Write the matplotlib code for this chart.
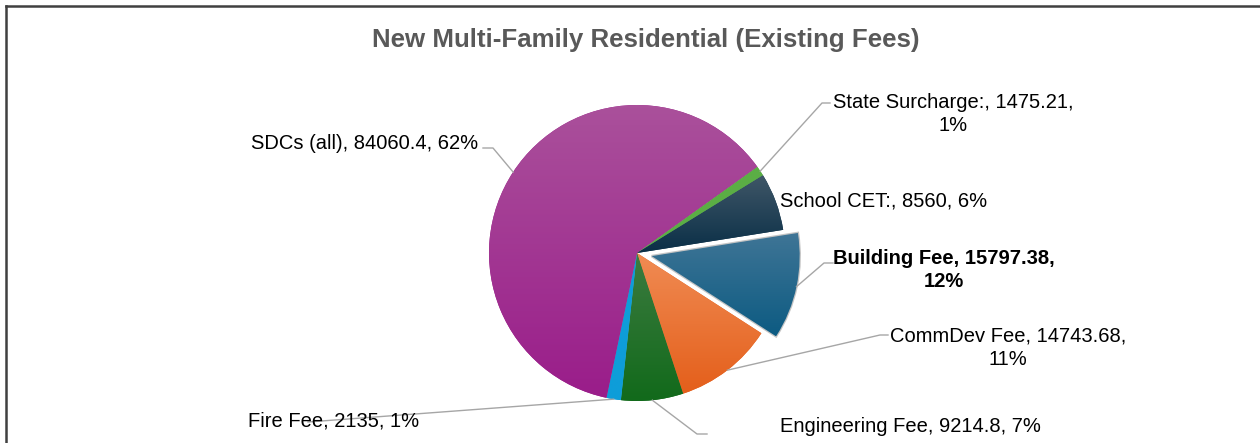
import numpy as np
import matplotlib
matplotlib.use("Agg")
from matplotlib import pyplot as plt
from matplotlib import font_manager
from matplotlib.colors import LinearSegmentedColormap

# data (Excel order, clockwise from the Building Fee slice)
categories = ["Building Fee", "CommDev Fee", "Engineering Fee", "Fire Fee",
              "SDCs (all)", "State Surcharge:", "School CET:"]
values = [15797.38, 14743.68, 9214.8, 2135, 84060.4, 1475.21, 8560]
pct_labels = [12, 11, 7, 1, 62, 1, 6]   # as Excel printed them (sums to 100)
title = "New Multi-Family Residential (Existing Fees)"

# gradient top/bottom colours per slice
grad_top = ["#3f7596", "#f08b53", "#3c7b40", "#0e9dd9", "#aa509b", "#5bae45", "#3f5667"]
grad_bot = ["#0d5b82", "#e45f1b", "#126a1b", "#0e9dd9", "#9a1d8a", "#5bae45", "#0a2f47"]

names = {f.name for f in font_manager.fontManager.ttflist}
fnt = "Liberation Sans Narrow" if "Liberation Sans Narrow" in names else "Liberation Sans"
plt.rcParams["font.family"] = [fnt, "DejaVu Sans"]

W, H = 1260, 443
fig = plt.figure(figsize=(W / 100, H / 100), dpi=100)
ax = fig.add_axes([0, 0, 1, 1])

cx, cy, rad = 637, H - 253, 148
explode = [15, 0, 0, 0, 0, 0, 0]
wedges, _ = ax.pie(values, colors=grad_bot, startangle=9, counterclock=False,
                   center=(cx, cy), radius=rad, explode=explode,
                   wedgeprops=dict(linewidth=0))

# grey rim on the exploded slice, vertical gradient inside each slice
for i, w in enumerate(wedges):
    if explode[i]:
        w.set_edgecolor("#c4c4c4")
        w.set_linewidth(1.8)
    bb = w.get_window_extent().transformed(ax.transData.inverted())
    cmap = LinearSegmentedColormap.from_list("g%d" % i, [grad_bot[i], grad_top[i]])
    g = np.linspace(0, 1, 64).reshape(-1, 1)
    im = ax.imshow(g, extent=[bb.x0, bb.x1, bb.y0, bb.y1], origin="lower",
                   cmap=cmap, aspect="auto", interpolation="bilinear", zorder=3)
    im.set_clip_path(w)

ax.set_xlim(0, W)
ax.set_ylim(0, H)
ax.axis("off")

# label layout: (text x, text y, ha, elbow points in pixel coords, bold)
layout = {
    "Building Fee":     (944, 270, "center", [(824, 263), (833, 263)], True),
    "CommDev Fee":      (1008, 348, "center", [(880, 335), (888, 335)], False),
    "Engineering Fee":  (780, 427, "left", [(697, 434), (707, 434)], False),
    "Fire Fee":         (248, 421, "left", [(308, 422)], False),
    "SDCs (all)":       (478, 143, "right", [(493, 148), (483, 148)], False),
    "State Surcharge:": (953, 114, "center", [(822, 103), (830, 103)], False),
    "School CET:":      (780, 201, "left", [], False),
}
wrap = {"Building Fee", "CommDev Fee", "State Surcharge:"}

for i, (cat, val, pct) in enumerate(zip(categories, values, pct_labels)):
    tx, ty, ha, pts, bold = layout[cat]
    sep = ",\n" if cat in wrap else ", "
    txt = "%s, %s%s%d%%" % (cat, val, sep, pct)
    ax.text(tx, H - ty, txt, ha=ha, va="center", fontsize=14.5, color="black",
            fontweight="bold" if bold else "normal", multialignment="center",
            linespacing=1.3, zorder=6)
    if pts:
        w = wedges[i]
        th = np.deg2rad((w.theta1 + w.theta2) / 2)
        ax0 = w.center[0] + w.r * np.cos(th)
        ay0 = w.center[1] + w.r * np.sin(th)
        xs = [ax0] + [p[0] for p in pts]
        ys = [ay0] + [H - p[1] for p in pts]
        ax.plot(xs, ys, color="#a6a6a6", lw=1, zorder=5)

ax.text(646, H - 40, title, ha="center", va="center", fontsize=18.6,
        fontweight="bold", color="#595959")

# chart frame (only top and left edges are inside the screenshot)
ax.plot([5.5, W], [H - 5.5, H - 5.5], color="#404040", lw=1.8, zorder=7)
ax.plot([5.5, 5.5], [0, H - 5.5], color="#404040", lw=1.8, zorder=7)

fig.savefig("out.png", dpi=100)
